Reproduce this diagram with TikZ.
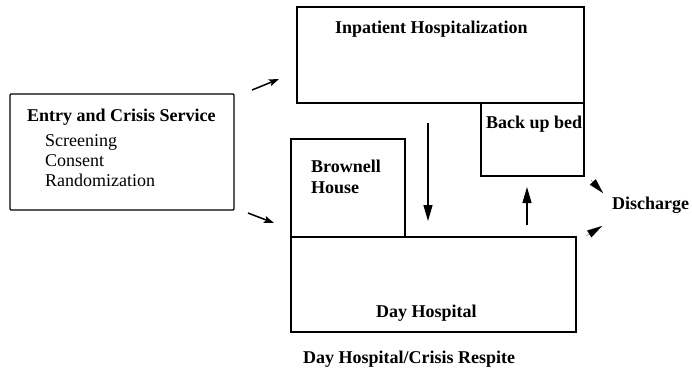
\documentclass[tikz,border=0pt]{standalone}
\usepackage{fontspec}
\setmainfont{Liberation Serif}
\usetikzlibrary{arrows.meta}
\begin{document}
\begin{tikzpicture}[x=1pt,y=-1pt,
  boxline/.style={draw=black,line width=1.2pt},
  lbl/.style={anchor=base west,inner sep=0pt,font=\fontsize{18}{21}\selectfont\bfseries},
  sublbl/.style={anchor=base west,inner sep=0pt,font=\fontsize{18}{21}\selectfont},
  flowarrow/.style={line width=1.5pt,-{Stealth[length=10pt,width=7pt,inset=2pt]}},
  vertarrow/.style={line width=1.2pt,-{Triangle[length=16pt,width=9pt]}},
  headonly/.style={line width=0.1pt,-{Triangle[length=15pt,width=8pt]}}
]
\useasboundingbox (0,0) rectangle (692,370);
\fill[white] (0,0) rectangle (692,370);

% boxes
\draw[boxline,rounded corners=1pt] (10,94) rectangle (234,210);
\node[inner sep=0pt] (entry) at (122,152) {};
\draw[boxline] (297,7) rectangle (584,103);
\node[inner sep=0pt] (inpatient) at (440,55) {};
\draw[boxline] (481,103) rectangle (584,176);
\node[inner sep=0pt] (backup) at (532,140) {};
\draw[boxline] (291,139) rectangle (405,237);
\node[inner sep=0pt] (brownell) at (348,188) {};
\draw[boxline] (291,237) rectangle (576,332);
\node[inner sep=0pt] (dayhosp) at (433,285) {};

% texts
\node[lbl] (tentry) at (27,121) {Entry and Crisis Service};
\node[sublbl] (tscreen) at (45,146) {Screening};
\node[sublbl] (tconsent) at (45,166) {Consent};
\node[sublbl] (trandom) at (45,186) {Randomization};
\node[lbl] (tinpat) at (335,33) {Inpatient Hospitalization};
\node[lbl] (tbackup) at (486,128) {Back up bed};
\node[lbl] (tbrown1) at (311,172) {Brownell};
\node[lbl] (tbrown2) at (311,193) {House};
\node[lbl] (tday) at (376,317) {Day Hospital};
\node[lbl] (tresp) at (303,363) {Day Hospital/Crisis Respite};
\node[lbl] (tdis) at (612,209) {Discharge};

% arrow end points
\coordinate (e1s) at (252,90);
\coordinate (e1t) at (279,79);
\coordinate (e2s) at (248,213);
\coordinate (e2t) at (274,223);
\coordinate (ds) at (428,123);
\coordinate (dt) at (428,221);
\coordinate (us) at (527,225);
\coordinate (ut) at (527,187);
\coordinate (h1s) at (591,180);
\coordinate (h1t) at (603,193);
\coordinate (h2s) at (586,236);
\coordinate (h2t) at (602,226);

\draw[flowarrow] (e1s) -- (e1t);
\draw[flowarrow] (e2s) -- (e2t);
\draw[vertarrow] (ds) -- (dt);
\draw[vertarrow] (us) -- (ut);
\draw[headonly] (h1s) -- (h1t);
\draw[headonly] (h2s) -- (h2t);
\end{tikzpicture}
\end{document}
